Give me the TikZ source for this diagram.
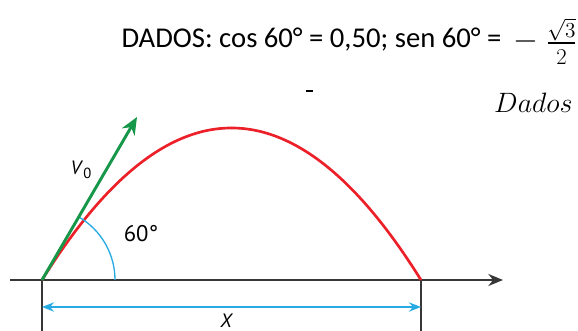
\RequirePackage{fix-cm}
\documentclass[tikz,border=0pt]{standalone}
\usepackage{amsmath}
\usepackage{fontspec}
\setmainfont{Carlito}
\newfontfamily\labelfont{PT Sans}
\usetikzlibrary{arrows.meta}
\tikzset{every picture/.style={line width=0.75pt}}
\definecolor{trajred}{RGB}{236,32,40}
\definecolor{vgreen}{RGB}{22,150,72}
\definecolor{angblue}{RGB}{40,170,226}
\definecolor{axisgray}{RGB}{55,55,55}

\begin{document}
\begin{tikzpicture}[x=0.75pt,y=0.75pt,yscale=-1,xscale=1]
\useasboundingbox (0,0) rectangle (578,331);
\clip (0,0) rectangle (578,331);
% pontos
\coordinate (O) at (42,280);
\coordinate (A) at (421,280);
\coordinate (axL) at (10,280);
\coordinate (axR) at (503,280);
\coordinate (Vtip) at (137,117);
\coordinate (Odown) at (42,331);
\coordinate (Adown) at (421,331);
\coordinate (xL) at (42,307);
\coordinate (xR) at (421,307);
% dados
\draw (121,48) node [anchor=base west, inner sep=0pt] (dadostxt) {\fontsize{21.5}{25}\selectfont DADOS: cos 60° = 0,50; sen 60° =};
\draw (526,42) node (minus) {\fontsize{24}{28}\selectfont $-$};
\draw (561.5,38) node [anchor=base, inner sep=0pt] (num) {\fontsize{16}{19}\selectfont $\sqrt{3}$};
\draw [line width=1.5pt] (548,43) -- (575,43);
\draw (561.5,65) node [anchor=base, inner sep=0pt] (den) {\fontsize{17}{20}\selectfont $2$};
\draw [line width=1.5pt] (306,91) -- (313,91);
\draw (573,113) node [anchor=base east, inner sep=0pt] (dados) {\fontsize{21}{24}\selectfont $Dados$};
% eixo
\draw [axisgray, line width=1.5pt, -{Stealth[length=11pt,width=9pt]}] (axL) -- (axR);
\draw [axisgray, line width=1.2pt] (O) -- (Odown);
\draw [axisgray, line width=1.2pt] (A) -- (Adown);
% alcance
\draw [angblue, line width=1.5pt, {Stealth[length=9pt,width=7pt]}-{Stealth[length=9pt,width=7pt]}] (xL) -- (xR);
\draw (226,327) node [anchor=base, inner sep=0pt] (X) {\labelfont\itshape\fontsize{14.5}{17}\selectfont X};
% trajetoria
\draw [trajred, line width=2pt] (O) .. controls (168.3,77.3) and (294.7,77.3) .. (A);
% angulo
\draw [angblue, line width=1pt] (O) ++(73,0) arc [start angle=0, end angle=-60, radius=73];
\draw (141,234) node (ang) {\labelfont\fontsize{17}{20}\selectfont 60°};
% v0
\draw [vgreen, line width=2.2pt, -{Stealth[length=13pt,width=11pt]}] (O) -- (Vtip);
\draw (81,170) node (v0) {\labelfont\fontsize{14.5}{17}\selectfont\textit{V}\raisebox{-0.35ex}{\fontsize{11}{13}\selectfont 0}};
\end{tikzpicture}
\end{document}
